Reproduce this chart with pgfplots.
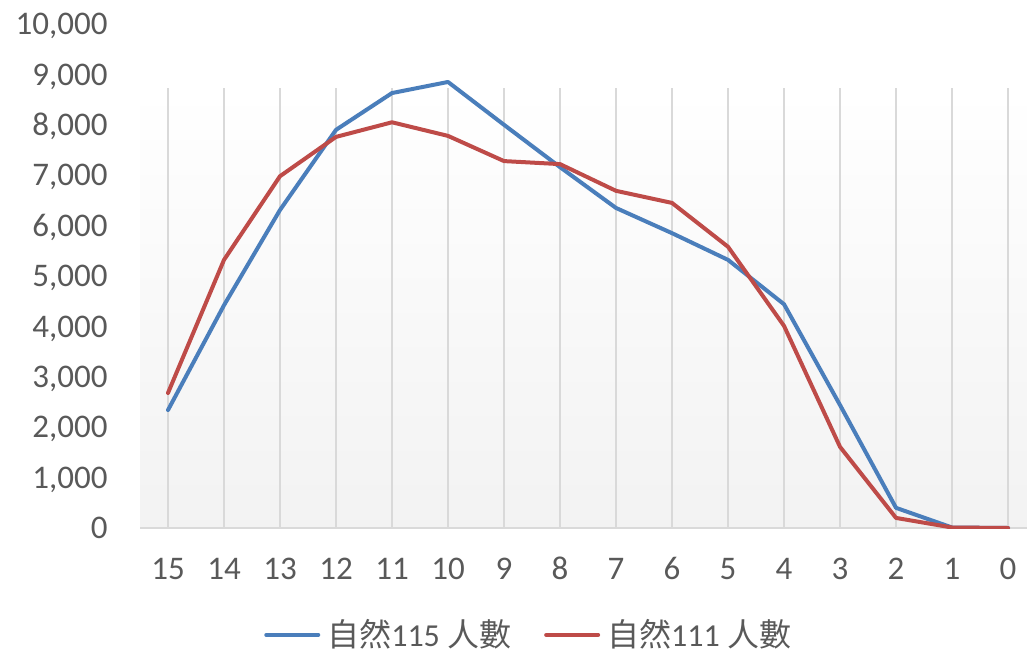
\documentclass[border=0pt]{standalone}
\usepackage{pgfplots}
\pgfplotsset{compat=1.18}
\usepackage{fontspec}
\setmainfont{Carlito}[Numbers=Lining]
\newfontfamily\cjk{Noto Sans CJK TC}
\usetikzlibrary{shadings}
\definecolor{tickgray}{HTML}{595959}
\definecolor{gridgray}{HTML}{D9D9D9}
\definecolor{sblue}{HTML}{4A7EBB}
\definecolor{sred}{HTML}{BE4B48}
\pgfplotsset{set layers}
\begin{document}
\begin{tikzpicture}
\begin{axis}[
  at={(70pt,61pt)}, anchor=south west,
  scale only axis, width=443.5pt, height=252pt,
  xmin=-0.5, xmax=15.339, ymin=0, ymax=10000,
  xtick={0,...,15},
  xticklabels={15,14,13,12,11,10,9,8,7,6,5,4,3,2,1,0},
  ytick={0,1000,...,10000},
  scaled y ticks=false,
  major tick length=0pt,
  axis lines*=left,
  y axis line style={draw=none},
  x axis line style={gridgray, line width=1pt, -},
  font=\fontsize{16.5}{19}\selectfont,
  tick label style={tickgray},
  /pgf/number format/assume math mode=true,
  /pgf/number format/.cd, 1000 sep={,}, /pgfplots/.cd,
  yticklabel style={anchor=east, inner sep=0pt, xshift=-16pt, text height=10.6pt, text depth=0pt},
  xticklabel style={anchor=north, inner sep=0pt, yshift=-15pt, text height=10.6pt, text depth=0pt},
  legend style={at={(0.441,-0.212)}, anchor=center, draw=none, fill=none,
    legend columns=2, font=\fontsize{16}{19}\selectfont\color{tickgray},
    nodes={inner xsep=3.5pt, inner ysep=0pt},
    /tikz/every even column/.append style={column sep=13pt}},
  legend cell align=left,
  legend image code/.code={\draw[#1, line width=2pt, line cap=round] (0pt,0pt) -- (26pt,0pt);},
]
\begin{pgfonlayer}{axis background}
\fill[top color=white, bottom color=black!5, draw=none] (axis cs:-0.5,0) rectangle (axis cs:15.339,8730);
\foreach \i in {0,...,15} {
  \edef\tmp{\noexpand\draw[gridgray, line width=0.8pt] (axis cs:\i,0) -- (axis cs:\i,8730);}
  \tmp
}
\end{pgfonlayer}
\addplot[sblue, line width=2pt, line join=round, line cap=round] coordinates {
(0,2340) (1,4420) (2,6310) (3,7900) (4,8630) (5,8850) (6,8000) (7,7160)
(8,6350) (9,5850) (10,5320) (11,4440) (12,2440) (13,400) (14,10) (15,0)};
\addlegendentry{{\cjk 自然}115 {\cjk 人數}}
\addplot[sred, line width=2pt, line join=round, line cap=round] coordinates {
(0,2680) (1,5320) (2,6980) (3,7760) (4,8050) (5,7780) (6,7280) (7,7220)
(8,6690) (9,6450) (10,5580) (11,4010) (12,1610) (13,200) (14,10) (15,0)};
\addlegendentry{{\cjk 自然}111 {\cjk 人數}}
\end{axis}
\pgfresetboundingbox
\path[use as bounding box] (0,0) rectangle (513.5pt,325pt);
\end{tikzpicture}
\end{document}
